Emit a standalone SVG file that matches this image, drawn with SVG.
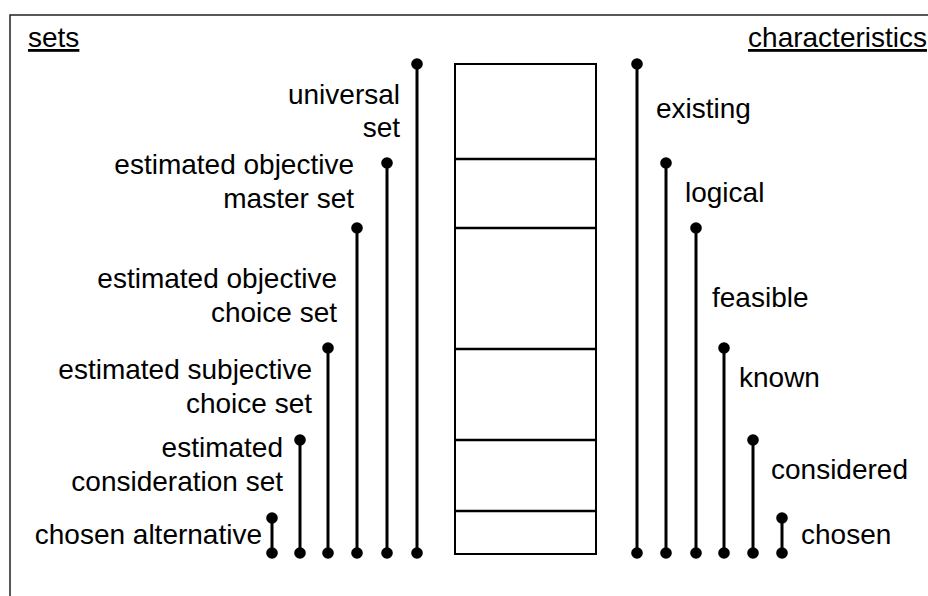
<svg xmlns="http://www.w3.org/2000/svg" width="928" height="596" viewBox="0 0 928 596">
<style>
text{font-family:"Liberation Sans",Arial,sans-serif;font-size:28px;fill:#000}
.r{text-anchor:end}
.u{text-decoration:underline}
.bar{stroke:#000;stroke-width:3;fill:none;marker-start:url(#dot);marker-end:url(#dot)}
.box{fill:#fff;stroke:#000;stroke-width:2}
.div{stroke:#000;stroke-width:2.5}
</style>
<defs>
<marker id="dot" markerUnits="userSpaceOnUse" viewBox="-6 -6 12 12" refX="0" refY="0" markerWidth="12" markerHeight="12"><circle r="5.8" fill="#000"/></marker>
</defs>
<rect x="0" y="0" width="928" height="596" fill="#fff"/>
<rect x="10" y="15" width="930" height="600" fill="none" stroke="#222" stroke-width="1.5"/>
<g id="header-sets"><text x="28" y="47" class="u">sets</text></g>
<g id="header-characteristics"><text x="927" y="47" class="r u">characteristics</text></g>
<g id="stack">
<rect class="box" x="455" y="64" width="141" height="490"/>
<line class="div" x1="455" y1="159" x2="596" y2="159"/>
<line class="div" x1="455" y1="228" x2="596" y2="228"/>
<line class="div" x1="455" y1="349" x2="596" y2="349"/>
<line class="div" x1="455" y1="440" x2="596" y2="440"/>
<line class="div" x1="455" y1="511" x2="596" y2="511"/>
</g>
<g id="connectors">
<line class="bar" x1="417" y1="64" x2="417" y2="553"/>
<line class="bar" x1="387" y1="163" x2="387" y2="553"/>
<line class="bar" x1="357" y1="228" x2="357" y2="553"/>
<line class="bar" x1="328" y1="348" x2="328" y2="553"/>
<line class="bar" x1="300" y1="440" x2="300" y2="553"/>
<line class="bar" x1="272" y1="518" x2="272" y2="553"/>
<line class="bar" x1="637" y1="64" x2="637" y2="553"/>
<line class="bar" x1="666" y1="163" x2="666" y2="553"/>
<line class="bar" x1="696" y1="228" x2="696" y2="553"/>
<line class="bar" x1="724" y1="348" x2="724" y2="553"/>
<line class="bar" x1="753" y1="440" x2="753" y2="553"/>
<line class="bar" x1="782" y1="518" x2="782" y2="553"/>
</g>
<g id="set-universal"><text class="r" x="400" y="104">universal</text><text class="r" x="400" y="137">set</text></g>
<g id="set-master"><text class="r" x="354" y="174">estimated objective</text><text class="r" x="354" y="208">master set</text></g>
<g id="set-objective-choice"><text class="r" x="337" y="288">estimated objective</text><text class="r" x="337" y="322">choice set</text></g>
<g id="set-subjective-choice"><text class="r" x="312" y="379">estimated subjective</text><text class="r" x="312" y="413">choice set</text></g>
<g id="set-consideration"><text class="r" x="283" y="457">estimated</text><text class="r" x="283" y="491">consideration set</text></g>
<g id="set-chosen"><text class="r" x="262" y="544">chosen alternative</text></g>
<g id="char-existing"><text x="656" y="118">existing</text></g>
<g id="char-logical"><text x="685" y="202">logical</text></g>
<g id="char-feasible"><text x="712" y="307">feasible</text></g>
<g id="char-known"><text x="739" y="387">known</text></g>
<g id="char-considered"><text x="771" y="479">considered</text></g>
<g id="char-chosen"><text x="801" y="544">chosen</text></g>
</svg>
